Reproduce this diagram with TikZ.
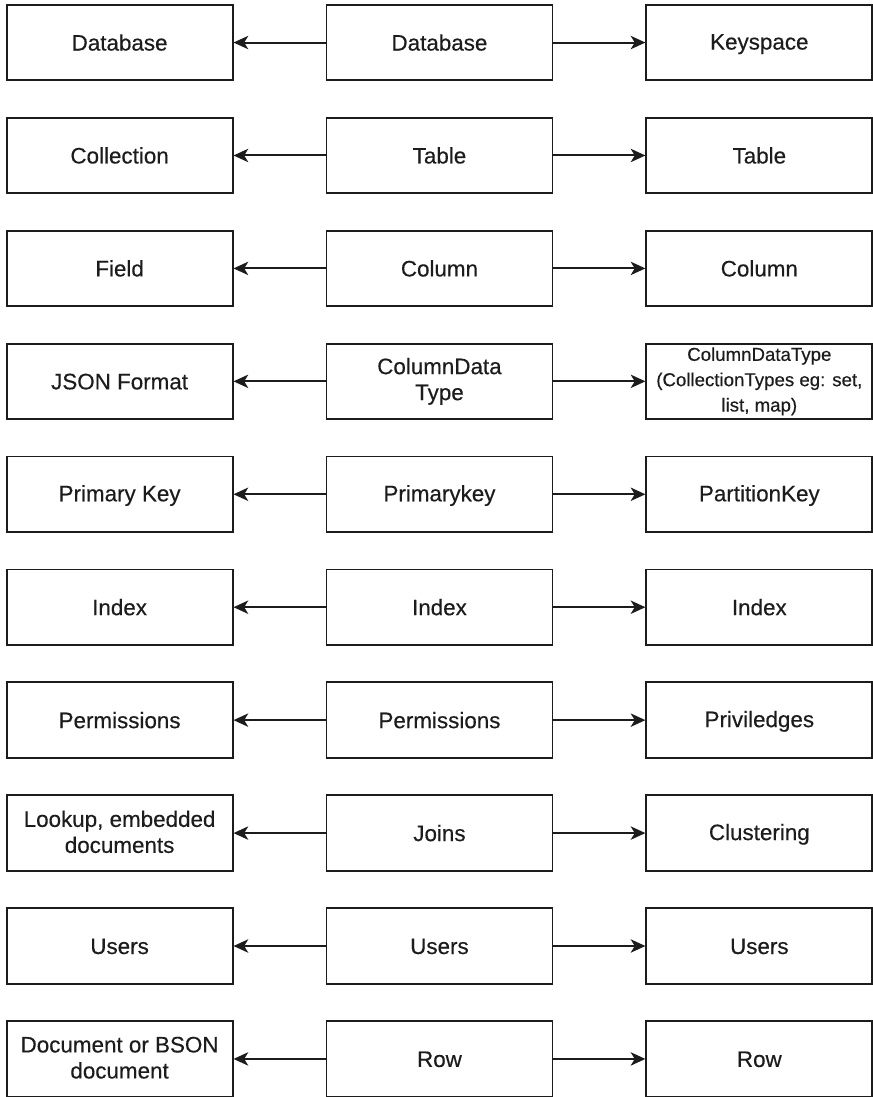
\documentclass[tikz,border=0pt]{standalone}
\usepackage{fontspec}
\setmainfont{Liberation Sans}
\newfontfamily\cellfont{Liberation Sans}[FakeBold=0.35]
\usepackage{xcolor}
\usepackage{tikz}
\usetikzlibrary{arrows.meta,positioning}
\definecolor{Ink}{HTML}{1C1C1C}
\tikzset{
  cell/.style={draw=Ink,line width=1.4pt,fill=white,align=center,
               minimum width=169.5pt,minimum height=56.6pt,inner sep=3pt,
               text=Ink,font=\cellfont\fontsize{16.8}{19.5}\selectfont,
               execute at begin node=\rule{0pt}{14pt},
               execute at end node=\rule[-2pt]{0pt}{2pt}},
  smallcell/.style={cell,inner sep=1pt,font=\cellfont\fontsize{14}{19}\selectfont},
  flow/.style={-{Stealth[length=11pt,width=10pt,inset=3pt]},line width=1.5pt,draw=Ink}
}
\begin{document}
\begin{tikzpicture}[node distance=26.7pt and 69pt]
  \useasboundingbox (0,0) rectangle (654pt,-822.75pt);
  % middle column
  \node[cell] (mdb) at (329.6pt,-31.9pt) {Database};
  \node[cell,below=of mdb] (mtab) {Table};
  \node[cell,below=of mtab] (mcol) {Column};
  \node[cell,below=of mcol] (mtype) {ColumnData\\Type};
  \node[cell,below=of mtype] (mkey) {Primarykey};
  \node[cell,below=of mkey] (midx) {Index};
  \node[cell,below=of midx] (mperm) {Permissions};
  \node[cell,below=of mperm] (mjoin) {Joins};
  \node[cell,below=of mjoin] (muser) {Users};
  \node[cell,below=of muser] (mrow) {Row};
  % left column
  \node[cell,left=of mdb] (ldb) {Database};
  \node[cell,left=of mtab] (ltab) {Collection};
  \node[cell,left=of mcol] (lcol) {Field};
  \node[cell,left=of mtype] (ltype) {JSON Format};
  \node[cell,left=of mkey] (lkey) {Primary Key};
  \node[cell,left=of midx] (lidx) {Index};
  \node[cell,left=of mperm] (lperm) {Permissions};
  \node[cell,left=of mjoin] (ljoin) {Lookup, embedded\\documents};
  \node[cell,left=of muser] (luser) {Users};
  \node[cell,left=of mrow] (lrow) {Document or BSON\\document};
  % right column
  \node[cell,right=of mdb] (rdb) {Keyspace};
  \node[cell,right=of mtab] (rtab) {Table};
  \node[cell,right=of mcol] (rcol) {Column};
  \node[smallcell,right=of mtype] (rtype) {ColumnDataType\\(CollectionTypes eg: set,\\list, map)};
  \node[cell,right=of mkey] (rkey) {PartitionKey};
  \node[cell,right=of midx] (ridx) {Index};
  \node[cell,right=of mperm] (rperm) {Priviledges};
  \node[cell,right=of mjoin] (rjoin) {Clustering};
  \node[cell,right=of muser] (ruser) {Users};
  \node[cell,right=of mrow] (rrow) {Row};
  % arrows
  \draw[flow] (mdb) -- (ldb);
  \draw[flow] (mdb) -- (rdb);
  \draw[flow] (mtab) -- (ltab);
  \draw[flow] (mtab) -- (rtab);
  \draw[flow] (mcol) -- (lcol);
  \draw[flow] (mcol) -- (rcol);
  \draw[flow] (mtype) -- (ltype);
  \draw[flow] (mtype) -- (rtype);
  \draw[flow] (mkey) -- (lkey);
  \draw[flow] (mkey) -- (rkey);
  \draw[flow] (midx) -- (lidx);
  \draw[flow] (midx) -- (ridx);
  \draw[flow] (mperm) -- (lperm);
  \draw[flow] (mperm) -- (rperm);
  \draw[flow] (mjoin) -- (ljoin);
  \draw[flow] (mjoin) -- (rjoin);
  \draw[flow] (muser) -- (luser);
  \draw[flow] (muser) -- (ruser);
  \draw[flow] (mrow) -- (lrow);
  \draw[flow] (mrow) -- (rrow);
\end{tikzpicture}
\end{document}
